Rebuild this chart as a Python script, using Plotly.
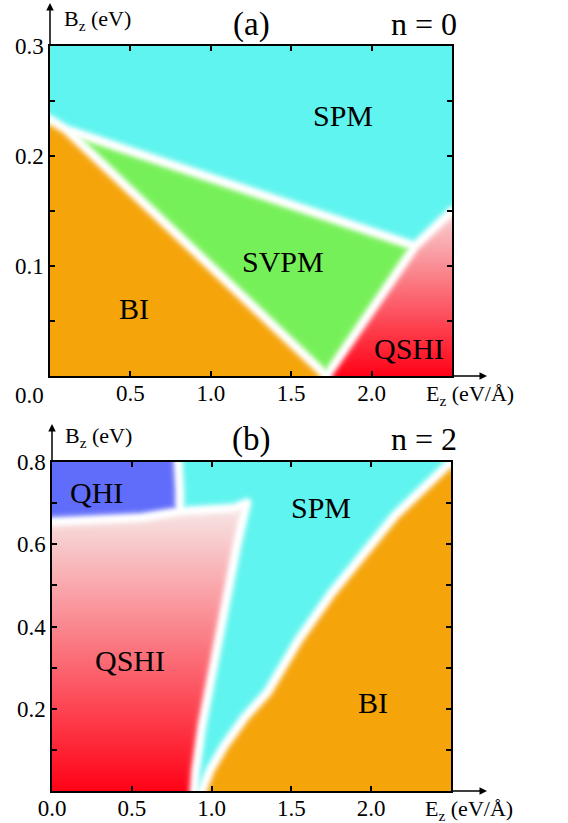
import numpy as np
import plotly.graph_objects as go

# ---------------- data: phase boundaries (Ez in eV/Å, Bz in eV) ----------------
# panel (a), n = 0
a_xmax, a_ymax = 2.5, 0.3
a_bi_spm_x = [0.0, 0.10]
a_bi_spm_y = [0.233, 0.224]
a_bi_svpm_x = [0.10, 1.72]
a_bi_svpm_y = [0.224, 0.0]
a_spm_svpm_x = [0.10, 2.27]
a_spm_svpm_y = [0.224, 0.118]
a_svpm_qshi_x = [1.72, 2.27]
a_svpm_qshi_y = [0.0, 0.118]
a_spm_qshi_x = [2.27, 2.50]
a_spm_qshi_y = [0.118, 0.150]

# panel (b), n = 2
b_xmax, b_ymax = 2.5, 0.8
b_qhi_spm_x = [0.79, 0.80, 0.80]
b_qhi_spm_y = [0.80, 0.73, 0.68]
b_qhi_qshi_x = [0.80, 0.56, 0.0]
b_qhi_qshi_y = [0.68, 0.665, 0.655]
b_spm_qshi_top_x = [1.22, 1.14, 0.80]
b_spm_qshi_top_y = [0.70, 0.688, 0.68]
b_qshi_right_x = [0.89, 0.90, 0.94, 1.02, 1.10, 1.16, 1.22]
b_qshi_right_y = [0.0, 0.05, 0.16, 0.32, 0.48, 0.60, 0.70]
b_spm_bi_x = [0.94, 0.99, 1.08, 1.21, 1.35, 1.55, 1.75, 1.95, 2.15, 2.50]
b_spm_bi_y = [0.0, 0.05, 0.11, 0.18, 0.24, 0.37, 0.48, 0.575, 0.67, 0.80]

# phase colours
col_spm = (95, 244, 239)
col_svpm = (118, 240, 88)
col_bi = (245, 164, 10)
col_qhi = (96, 108, 250)
col_red = (255, 2, 22)
col_pale = (247, 222, 222)

# labels
a_labels = [("SPM", 1.82, 0.237), ("SVPM", 1.45, 0.104), ("BI", 0.52, 0.061), ("QSHI", 2.23, 0.025)]
b_labels = [("QHI", 0.28, 0.725), ("SPM", 1.685, 0.690), ("QSHI", 0.49, 0.318), ("BI", 2.01, 0.214)]
a_xticks = [0.5, 1.0, 1.5, 2.0]
a_yticks = [0.1, 0.2, 0.3]
b_xticks = [0.0, 0.5, 1.0, 1.5, 2.0]
b_yticks = [0.2, 0.4, 0.6, 0.8]


def pts(xs, ys):
    return list(zip(xs, ys))


def rev(p):
    return p[::-1]


def inside(X, Y, poly):
    res = np.zeros(X.shape, bool)
    n = len(poly)
    for i in range(n):
        x1, y1 = poly[i]
        x2, y2 = poly[(i + 1) % n]
        if y1 == y2:
            continue
        cond = (y1 > Y) != (y2 > Y)
        xint = x1 + (Y - y1) * (x2 - x1) / (y2 - y1)
        res ^= cond & (X < xint)
    return res


def seg_dist(PX, PY, a, b):
    ax, ay = a
    bx, by = b
    vx, vy = bx - ax, by - ay
    L2 = vx * vx + vy * vy
    t = np.clip(((PX - ax) * vx + (PY - ay) * vy) / L2, 0, 1)
    dx = PX - (ax + t * vx)
    dy = PY - (ay + t * vy)
    return np.sqrt(dx * dx + dy * dy)


def blur(img, s):
    r = int(3 * s) + 1
    k = np.exp(-0.5 * (np.arange(-r, r + 1) / s) ** 2)
    k /= k.sum()
    out = img.copy()
    for axis in (0, 1):
        pad = [(0, 0)] * 3
        pad[axis] = (r, r)
        p = np.pad(out, pad, mode="edge")
        acc = np.zeros_like(out)
        n = out.shape[axis]
        for i, kv in enumerate(k):
            sl = [slice(None)] * 3
            sl[axis] = slice(i, i + n)
            acc += kv * p[tuple(sl)]
        out = acc
    return out


def render(regions, xmax, ymax, nx, ny):
    xs = (np.arange(nx) + 0.5) * xmax / nx
    ys = (np.arange(ny) + 0.5) * ymax / ny
    X, Y = np.meshgrid(xs, ys)
    sx, sy = nx / xmax, ny / ymax
    img = np.full((ny, nx, 3), 255.0)
    dmin = np.full(X.shape, 1e9)
    eps = 1e-9
    for poly, colfn in regions:
        m = inside(X, Y, poly)
        c = colfn(X, Y)
        img[m] = c[m]
        n = len(poly)
        for i in range(n):
            p, q = poly[i], poly[(i + 1) % n]
            if abs(p[0] - q[0]) < eps and abs(p[1] - q[1]) < eps:
                continue
            on_frame = ((abs(p[0]) < eps and abs(q[0]) < eps) or (abs(p[1]) < eps and abs(q[1]) < eps)
                        or (abs(p[0] - xmax) < eps and abs(q[0] - xmax) < eps)
                        or (abs(p[1] - ymax) < eps and abs(q[1] - ymax) < eps))
            if on_frame:
                continue
            d = seg_dist(X * sx, Y * sy, (p[0] * sx, p[1] * sy), (q[0] * sx, q[1] * sy))
            dmin = np.minimum(dmin, d)
    w = np.exp(-(np.maximum(dmin - 1.3, 0) / 3.8) ** 2)
    img = img * (1 - w[..., None]) + 255.0 * w[..., None]
    img = blur(img, 1.7)
    img = np.nan_to_num(img, nan=255.0)
    return np.clip(np.round(img), 0, 255).astype(np.uint8)


def solid(c):
    return lambda X, Y: np.broadcast_to(np.array(c, float), X.shape + (3,)).copy()


def gradient(ytop):
    def f(X, Y):
        t = np.clip(Y / ytop, 0, 1)[..., None]
        return np.array(col_red, float) * (1 - t) + np.array(col_pale, float) * t
    return f


# ---------------- panel (a) regions ----------------
L0 = pts(a_bi_spm_x, a_bi_spm_y)
L1 = pts(a_bi_svpm_x, a_bi_svpm_y)
L2 = pts(a_spm_svpm_x, a_spm_svpm_y)
L3 = pts(a_svpm_qshi_x, a_svpm_qshi_y)
L4 = pts(a_spm_qshi_x, a_spm_qshi_y)
a_regions = [
    ([(0.0, 0.0)] + rev(L1) + rev(L0)[1:], solid(col_bi)),
    (L1 + [L2[-1]], solid(col_svpm)),
    ([L3[0], (a_xmax, 0.0)] + rev(L4), gradient(0.158)),
    ([(0.0, a_ymax)] + L0 + L2[1:] + L4[1:] + [(a_xmax, a_ymax)], solid(col_spm)),
]
na_x, na_y = 402, 330
img_a = render(a_regions, a_xmax, a_ymax, na_x, na_y)

# ---------------- panel (b) regions ----------------
Q = pts(b_qhi_spm_x, b_qhi_spm_y)
QT = pts(b_qhi_qshi_x, b_qhi_qshi_y)
T = pts(b_spm_qshi_top_x, b_spm_qshi_top_y)
R = pts(b_qshi_right_x, b_qshi_right_y)
B = pts(b_spm_bi_x, b_spm_bi_y)
b_regions = [
    ([(0.0, b_ymax)] + Q + QT[1:], solid(col_qhi)),
    ([(0.0, 0.0)] + R + T[1:] + QT[1:], gradient(0.665)),
    ([Q[0], (b_xmax, b_ymax)] + rev(B)[1:] + R + T[1:] + rev(Q)[1:-1], solid(col_spm)),
    (B + [(b_xmax, 0.0)], solid(col_bi)),
]
nb_x, nb_y = 399, 329
img_b = render(b_regions, b_xmax, b_ymax, nb_x, nb_y)

fig = go.Figure()
fig.add_trace(go.Image(z=img_a.tolist(), x0=a_xmax / na_x / 2, dx=a_xmax / na_x,
                       y0=a_ymax / na_y / 2, dy=a_ymax / na_y, xaxis="x", yaxis="y", hoverinfo="skip"))
fig.add_trace(go.Image(z=img_b.tolist(), x0=b_xmax / nb_x / 2, dx=b_xmax / nb_x,
                       y0=b_ymax / nb_y / 2, dy=b_ymax / nb_y, xaxis="x2", yaxis="y2", hoverinfo="skip"))

W, H = 568, 823
FONT = "Liberation Serif, Times New Roman, serif"
tickfont = dict(family=FONT, size=23, color="black")


def xaxis(dom, rng, tv, tt, anchor):
    return dict(domain=dom, range=rng, autorange=False, tickvals=tv, ticktext=tt, ticks="inside",
                ticklen=5, tickwidth=2, tickcolor="black", showline=True, linecolor="black",
                linewidth=1.5, mirror="allticks", showgrid=False, zeroline=False, tickfont=tickfont,
                fixedrange=True, automargin=False, ticklabelstandoff=-4, anchor=anchor)


def yaxis(dom, rng, tv, dt, anchor):
    return dict(domain=dom, range=rng, autorange=False, tickvals=tv, ticktext=[f"{v:.1f}" for v in tv],
                ticks="inside", ticklen=5, tickwidth=2, tickcolor="black", showline=True,
                linecolor="black", linewidth=1.5, mirror="allticks", showgrid=False, zeroline=False,
                tickfont=tickfont, fixedrange=True, automargin=False, scaleanchor=False, anchor=anchor,
                minor=dict(ticks="inside", ticklen=5, tickwidth=2, tickcolor="black", dtick=dt, tick0=0))


fig.update_layout(
    width=W, height=H, margin=dict(l=0, r=0, t=0, b=0, autoexpand=False),
    paper_bgcolor="white", plot_bgcolor="white", showlegend=False,
    font=dict(family=FONT, color="black"),
    xaxis=xaxis([50 / W, 452 / W], [0, a_xmax], a_xticks, [f"{v:.1f}" for v in a_xticks], "y"),
    yaxis=yaxis([1 - 376 / H, 1 - 46 / H], [0, a_ymax], a_yticks, 0.05, "x"),
    xaxis2=xaxis([52 / W, 451 / W], [0, b_xmax], b_xticks, [f"{v:.1f}" for v in b_xticks], "y2"),
    yaxis2=yaxis([1 - 791 / H, 1 - 462 / H], [0, b_ymax], b_yticks, 0.1, "x2"),
)

ann = []
for txt, x, y in a_labels:
    ann.append(dict(text=txt, x=x, y=y, xref="x", yref="y", showarrow=False,
                    font=dict(family=FONT, size=30, color="black")))
for txt, x, y in b_labels:
    ann.append(dict(text=txt, x=x, y=y, xref="x2", yref="y2", showarrow=False,
                    font=dict(family=FONT, size=30, color="black")))


def ptxt(text, px, py, size, xanchor="center"):
    ann.append(dict(text=text, x=px / W, y=1 - py / H, xref="paper", yref="paper", showarrow=False,
                    xanchor=xanchor, yanchor="middle", font=dict(family=FONT, size=size, color="black")))


def arrow(hx, hy, ax, ay):
    ann.append(dict(text="", x=hx / W, y=1 - hy / H, xref="paper", yref="paper", showarrow=True,
                    ax=ax, ay=ay, axref="pixel", ayref="pixel", arrowhead=2, arrowsize=1,
                    arrowwidth=1.5, arrowcolor="black", standoff=0, startstandoff=0))


# panel (a) decorations
ptxt("(a)", 251, 24, 33)
ptxt("n = 0", 424, 24, 32)
ptxt("B<sub>z</sub> (eV)", 62, 20, 22, "left")
ptxt("E<sub>z</sub> (eV/Å)", 424, 395, 22, "left")
ptxt("0.0", 29, 395, 23)
arrow(50, 3, 0, 43)
arrow(487, 376, -35, 0)
# panel (b) decorations
ptxt("(b)", 251, 439, 33)
ptxt("n = 2", 424, 439, 32)
ptxt("B<sub>z</sub> (eV)", 63, 437, 22, "left")
ptxt("E<sub>z</sub> (eV/Å)", 423, 810, 22, "left")
arrow(52, 424, 0, 38)
arrow(487, 791, -36, 0)

fig.update_layout(annotations=ann)
fig.write_html("out.html", config={"displayModeBar": False},
               post_script="document.body.style.margin='0';document.body.style.overflow='hidden';")
